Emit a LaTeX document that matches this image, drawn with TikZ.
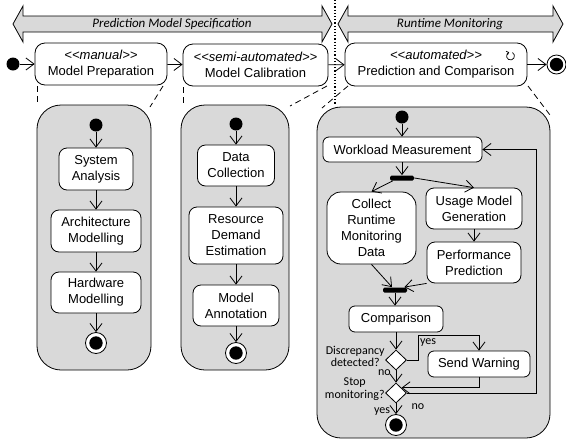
\documentclass[tikz,border=0pt]{standalone}
\usepackage{fontspec}
\setmainfont{Liberation Sans}
\newfontfamily\calfont{Carlito}
\usetikzlibrary{arrows.meta,shapes.geometric}
\definecolor{panelgray}{HTML}{D9D9D9}
\newcommand{\boxfont}{\fontsize{13}{16}\selectfont}
\newcommand{\lblfont}{\calfont\fontsize{12}{12.5}\selectfont}
\begin{document}
\begin{tikzpicture}[x=1pt,y=-1pt,line width=0.8pt,
  act/.style={draw,rounded corners=8pt,fill=white,align=center,inner sep=0pt,font=\boxfont},
  topact/.style={draw,rounded corners=10pt,fill=white,align=center,inner sep=0pt,font=\boxfont},
  panel/.style={draw,rounded corners=24pt,fill=panelgray},
  initnode/.style={circle,fill=black,minimum size=13pt,inner sep=0pt},
  finalnode/.style={circle,draw,fill=white,minimum size=21pt,inner sep=0pt,
     path picture={\fill[black] (path picture bounding box.center) circle (6.7pt);}},
  bar/.style={fill=black,rounded corners=1.5pt,minimum height=5pt,inner sep=0pt},
  decision/.style={diamond,draw,fill=white,minimum width=21pt,minimum height=20pt,inner sep=0pt,aspect=1.05},
  arr/.style={-{Straight Barb[length=8pt,width=12pt,line width=0.8pt]}},
  lbl/.style={font=\lblfont,inner sep=0pt,align=center},
  banner/.style={draw,fill=panelgray},
  dashedline/.style={dashed,dash pattern=on 6pt off 4pt}
]
\useasboundingbox (0,0) rectangle (566,440);

% banners
\draw[banner] (13,24) -- (23,6) -- (23,16) -- (322,16) -- (322,6) -- (332,24) -- (322,42) -- (322,32) -- (23,32) -- (23,42) -- cycle;
\draw[banner] (338,24) -- (348,6) -- (348,16) -- (553,16) -- (553,6) -- (563,24) -- (553,42) -- (553,32) -- (348,32) -- (348,42) -- cycle;
\node[font=\calfont\itshape\fontsize{13}{15}\selectfont] (pms) at (172,24) {Prediction Model Specification};
\node[font=\calfont\itshape\fontsize{13}{15}\selectfont] (rtm) at (450,24) {Runtime Monitoring};
\draw[dotted,line width=1.2pt] (335,0) -- (335,104);

% panels
\draw[panel] (37,105) rectangle (151,370);
\draw[panel] (181,105) rectangle (289,370);
\draw[panel] (317,107) rectangle (550,438);

% top row
\node[initnode] (initT) at (13,64) {};
\node[topact,minimum width=132pt,minimum height=42pt] (MP) at (101,64) {\textit{<{}<manual>{}>}\\Model Preparation};
\node[topact,minimum width=145pt,minimum height=42pt] (MC) at (255.5,65) {\textit{<{}<semi-automated>{}>}\\Model Calibration};
\node[topact,minimum width=182pt,minimum height=43pt] (PC) at (436,64.5) {\textit{<{}<automated>{}>}\\Prediction and Comparison};
\node[finalnode,minimum size=19pt] (finalT) at (556.5,64.5) {};
\draw[arr] (initT) -- (MP);
\draw[arr] (MP) -- (MC);
\draw[arr] (MC) -- (PC);
\draw[arr] (PC) -- (finalT);
% loop icon
\draw[line width=0.7pt,-{Straight Barb[length=2pt,width=4pt]}] (510.5,56) ++(-60:4) arc[start angle=-60,end angle=250,radius=4];

% dashed expansion lines
\draw[dashedline] (37,86) -- (37,105);
\draw[dashedline] (163,86) -- (150,107);
\draw[dashedline] (183,87) -- (183,105);
\draw[dashedline] (327,86) -- (290,106);
\draw[dashedline] (348,86) -- (322,108);
\draw[dashedline] (528,86) -- (550,115);

% panel 1
\node[initnode] (init1) at (96,125) {};
\node[act,minimum width=74pt,minimum height=42pt] (SA) at (96,169) {System\\Analysis};
\node[act,minimum width=90pt,minimum height=42pt] (AM) at (96,231) {Architecture\\Modelling};
\node[act,minimum width=90pt,minimum height=41pt] (HM) at (96,292.5) {Hardware\\Modelling};
\node[finalnode] (final1) at (96,343) {};
\draw[arr] (init1) -- (SA);
\draw[arr] (SA) -- (AM);
\draw[arr] (AM) -- (HM);
\draw[arr] (HM) -- (final1);

% panel 2
\node[initnode] (init2) at (236,124) {};
\node[act,minimum width=77pt,minimum height=41pt] (DC) at (236,165.5) {Data\\Collection};
\node[act,minimum width=94pt,minimum height=57pt] (RDE) at (236,235.5) {Resource\\Demand\\Estimation};
\node[act,minimum width=86pt,minimum height=41pt] (MA) at (236,305.5) {Model\\Annotation};
\node[finalnode] (final2) at (236,353) {};
\draw[arr] (init2) -- (DC);
\draw[arr] (DC) -- (RDE);
\draw[arr] (RDE) -- (MA);
\draw[arr] (MA) -- (final2);

% panel 3
\node[initnode] (init3) at (402,117) {};
\node[act,rounded corners=6pt,minimum width=159pt,minimum height=25pt] (WM) at (402.5,149.5) {Workload Measurement};
\node[bar,minimum width=24pt] (fork) at (402,178) {};
\node[act,rounded corners=14pt,minimum width=89pt,minimum height=72pt] (CRMD) at (371.5,228) {Collect\\Runtime\\Monitoring\\Data};
\node[act,minimum width=96pt,minimum height=41pt] (UMG) at (474,208.5) {Usage Model\\Generation};
\node[act,minimum width=94pt,minimum height=41pt] (PP) at (474,262.5) {Performance\\Prediction};
\node[bar,minimum width=24pt] (join) at (395,290) {};
\node[act,rounded corners=6pt,minimum width=94pt,minimum height=26pt] (Comp) at (396,319) {Comparison};
\node[decision] (D1) at (396,360) {};
\node[act,rounded corners=6pt,minimum width=102pt,minimum height=26pt] (SW) at (479,364) {Send Warning};
\node[decision] (D2) at (396,393) {};
\node[finalnode] (final3) at (396,425) {};
\coordinate (loopx) at (536,0);

\draw[arr] (init3) -- (init3 |- WM.north);
\draw[arr] (WM.south -| fork) -- (fork.north);
\draw[arr] ([xshift=3pt]fork.south west) -- (CRMD.north);
\draw[arr] (fork.east) -- (UMG.north);
\draw[arr] (UMG) -- (PP);
\draw[arr] (CRMD.south) -- ([xshift=-3pt]join.north);
\draw[arr] (PP.south west) -- ([xshift=-3pt]join.north east);
\draw[arr] (join.south) -- (join.south |- Comp.north);
\draw[arr] (Comp.south -| D1) -- (D1.north);
\draw[arr] (D1.east) -- ++(11,0) |- ([yshift=15pt]SW.north) -- (SW.north);
\draw[arr] (D1.south) -- (D2.north);
\draw[arr] (SW.south) |- (D2.north east);
\draw[arr] (D2.east) -- (D2.east -| loopx) |- (WM.east);
\draw[arr] (D2.south) -- (final3);

% labels
\node[lbl,anchor=east] (lD1) at (385,356.5) {Discrepancy\\detected?};
\node[lbl,anchor=east] (lD2) at (385,389) {Stop\\monitoring?};
\node[lbl] (yes1) at (428,343) {yes};
\node[lbl] (no1) at (384.5,373) {no};
\node[lbl] (yes2) at (382,412) {yes};
\node[lbl] (no2) at (418,407) {no};
\end{tikzpicture}
\end{document}
